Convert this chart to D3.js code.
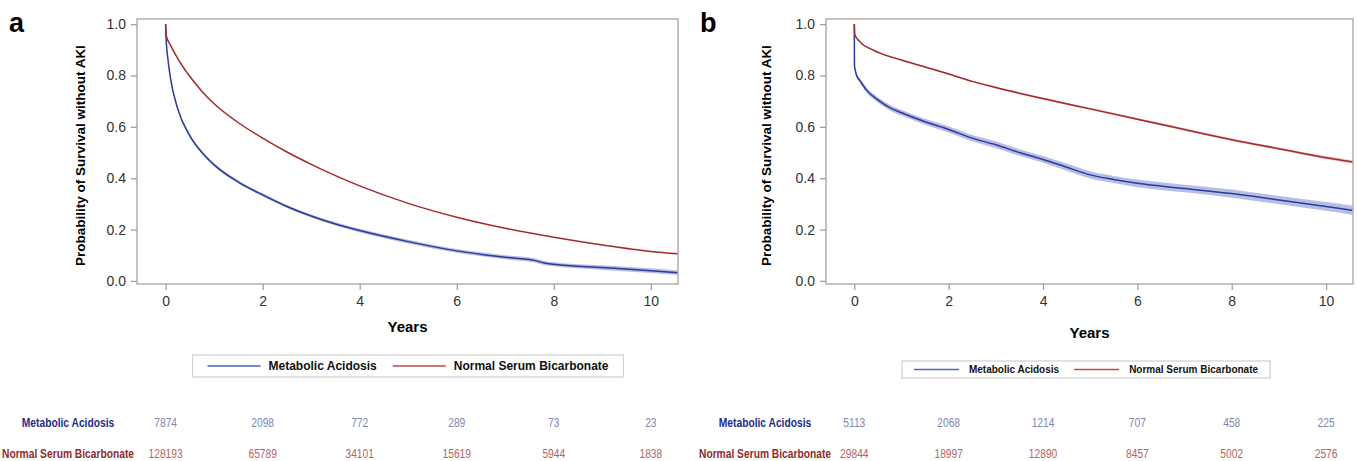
<!DOCTYPE html>
<html>
<head>
<meta charset="utf-8">
<script src="https://cdn.jsdelivr.net/npm/d3@7"></script>
<style>
  body { margin: 0; background: #fff; }
  svg { display: block; font-family: "Liberation Sans", Arial, sans-serif; }
</style>
</head>
<body>
<svg id="chart" width="1357" height="461"></svg>
<script>
const seriesNames = ["Metabolic Acidosis", "Normal Serum Bicarbonate"];
const xTicks = [0, 2, 4, 6, 8, 10];
const yTicks = [0, 0.2, 0.4, 0.6, 0.8, 1.0];

// panel a
const aAcidosisT   = [0, 0.01, 0.05, 0.1, 0.25, 0.5, 0.75, 1, 1.5, 2, 2.5, 3, 3.5, 4, 5, 6, 7, 7.6, 7.8, 8, 9, 10, 10.56];
const aAcidosisS   = [1, 0.945, 0.86, 0.79, 0.67, 0.565, 0.5, 0.452, 0.385, 0.335, 0.29, 0.253, 0.222, 0.196, 0.153, 0.117, 0.092, 0.08, 0.07, 0.065, 0.052, 0.04, 0.032];
const aAcidosisCI  = [0, 0.004, 0.005, 0.005, 0.006, 0.006, 0.006, 0.006, 0.006, 0.006, 0.006, 0.006, 0.006, 0.007, 0.007, 0.007, 0.008, 0.008, 0.008, 0.008, 0.009, 0.009, 0.009];
const aNormalT     = [0, 0.01, 0.1, 0.25, 0.5, 0.75, 1, 1.5, 2, 2.5, 3, 3.5, 4, 5, 6, 7, 8, 9, 10, 10.56];
const aNormalS     = [1, 0.957, 0.918, 0.866, 0.796, 0.738, 0.69, 0.616, 0.556, 0.502, 0.454, 0.41, 0.37, 0.302, 0.248, 0.205, 0.17, 0.14, 0.115, 0.106];
const aAtRiskAcidosis = [7874, 2098, 772, 289, 73, 23];
const aAtRiskNormal   = [128193, 65789, 34101, 15619, 5944, 1838];

// panel b
const bAcidosisT   = [0, 0.003, 0.05, 0.12, 0.25, 0.5, 0.75, 1, 1.5, 2, 2.5, 3, 3.5, 4, 4.5, 5, 5.5, 6, 7, 8, 9, 10, 10.57];
const bAcidosisS   = [1, 0.84, 0.80, 0.78, 0.745, 0.705, 0.675, 0.655, 0.62, 0.59, 0.556, 0.53, 0.50, 0.473, 0.443, 0.413, 0.395, 0.38, 0.36, 0.34, 0.315, 0.29, 0.275];
const bAcidosisCI  = [0, 0.008, 0.009, 0.009, 0.01, 0.01, 0.011, 0.011, 0.012, 0.012, 0.012, 0.013, 0.013, 0.013, 0.014, 0.014, 0.014, 0.015, 0.015, 0.016, 0.016, 0.017, 0.018];
const bNormalT     = [0, 0.01, 0.12, 0.4, 1, 1.5, 2, 2.5, 3, 4, 5, 6, 7, 8, 9, 10, 10.57];
const bNormalS     = [1, 0.96, 0.931, 0.899, 0.86, 0.833, 0.806, 0.777, 0.753, 0.71, 0.67, 0.63, 0.59, 0.55, 0.515, 0.48, 0.463];
const bNormalCI    = [0, 0.002, 0.002, 0.003, 0.003, 0.003, 0.003, 0.003, 0.004, 0.004, 0.004, 0.004, 0.005, 0.005, 0.005, 0.006, 0.006];
const bAtRiskAcidosis = [5113, 2068, 1214, 707, 458, 225];
const bAtRiskNormal   = [29844, 18997, 12890, 8457, 5002, 2576];

const blue = "#2c3a98", blueBand = "#aab3e2", red = "#a3292b", redBand = "#eaa6a6";
const narrowFactor = 0.82; // no narrow face installed, squeeze regular one

const svg = d3.select("#chart");

function toPts(T, S, C) {
  return T.map((t, i) => ({t: t, s: S[i], c: C ? C[i] : 0}));
}

function narrowText(parent, x, y) {
  return parent.append("g").attr("transform", `translate(${x},${y}) scale(${narrowFactor},1)`)
    .append("text").attr("x", 0).attr("y", 0).attr("text-anchor", "middle");
}

function drawPanel(p) {
  const x = d3.scaleLinear().domain(p.xDomain).range([p.left, p.right]);
  const y = d3.scaleLinear().domain([-0.012, 1.02]).range([p.bottom, p.top]);
  const g = svg.append("g");

  g.append("text").attr("x", p.letterX).attr("y", 32)
    .attr("font-size", 27).attr("font-weight", "bold").text(p.letter);

  const clipId = "clip" + p.letter;
  g.append("clipPath").attr("id", clipId).append("rect")
    .attr("x", p.left).attr("y", p.top).attr("width", p.right - p.left).attr("height", p.bottom - p.top);

  const plot = g.append("g").attr("clip-path", `url(#${clipId})`);
  const line = d3.line().x(d => x(d.t)).y(d => y(d.s)).curve(d3.curveMonotoneX);
  const band = d3.area().x(d => x(d.t)).y0(d => y(d.s - d.c)).y1(d => y(d.s + d.c)).curve(d3.curveMonotoneX);

  p.series.forEach(s => {
    if (s.ci) {
      plot.append("path").datum(s.pts).attr("d", band)
        .attr("fill", s.band).attr("opacity", s.bandOpacity).attr("stroke", "none");
    }
  });
  p.series.forEach(s => {
    plot.append("path").datum(s.pts).attr("d", line)
      .attr("fill", "none").attr("stroke", s.color).attr("stroke-width", 1.5);
  });

  // frame
  g.append("rect").attr("x", p.left).attr("y", p.top)
    .attr("width", p.right - p.left).attr("height", p.bottom - p.top)
    .attr("fill", "none").attr("stroke", "#b0b0b0").attr("stroke-width", 1.5);

  const xAxis = g.append("g").attr("transform", `translate(0,${p.bottom})`)
    .call(d3.axisBottom(x).tickValues(xTicks).tickSize(6).tickPadding(6).tickFormat(d3.format("d")));
  const yAxis = g.append("g").attr("transform", `translate(${p.left},0)`)
    .call(d3.axisLeft(y).tickValues(yTicks).tickSize(6).tickPadding(5).tickFormat(d3.format(".1f")));
  [xAxis, yAxis].forEach(a => {
    a.select(".domain").remove();
    a.selectAll(".tick line").attr("stroke", "#a0a0a0").attr("stroke-width", 1.3);
    a.selectAll(".tick text").attr("fill", "#333").attr("font-size", 14)
      .attr("font-family", "'Liberation Sans', Arial, sans-serif");
  });

  g.append("text").attr("x", (p.left + p.right) / 2).attr("y", p.xLabelY)
    .attr("text-anchor", "middle").attr("font-size", 15).attr("font-weight", "bold").text("Years");
  g.append("text").attr("transform", `translate(${p.yLabelX},${(p.top + p.bottom) / 2 + 4}) rotate(-90)`)
    .attr("text-anchor", "middle").attr("font-size", 13.5).attr("font-weight", "bold")
    .text("Probability of Survival without AKI");

  // legend
  const lg = g.append("g");
  const box = lg.append("rect").attr("fill", "#fff").attr("stroke", "#d0d0d0").attr("stroke-width", 1.2);
  const items = [];
  p.series.forEach((s, i) => {
    const it = lg.append("g");
    it.append("line").attr("x1", 0).attr("x2", p.legLine).attr("y1", 0).attr("y2", 0)
      .attr("stroke", s.legColor).attr("stroke-width", 1.5);
    const tx = it.append("text").attr("x", p.legLine + p.legGap).attr("y", p.legFont * 0.36)
      .attr("font-size", p.legFont).attr("font-weight", "bold").attr("fill", "#111").text(seriesNames[i]);
    const w = p.legLine + p.legGap + tx.node().getComputedTextLength();
    items.push({it, w});
  });
  const total = items[0].w + p.legSpace + items[1].w + 2 * p.legPad;
  const startX = p.legCenter - total / 2;
  box.attr("x", startX).attr("y", p.legY - p.legH / 2).attr("width", total).attr("height", p.legH);
  let cx = startX + p.legPad;
  items.forEach(o => { o.it.attr("transform", `translate(${cx},${p.legY})`); cx += o.w + p.legSpace; });

  // number at risk
  const rows = [
    {label: seriesNames[0], values: p.riskA, labColor: "#1f2d8a", numColor: "#7f86b3", y: 427},
    {label: seriesNames[1], values: p.riskN, labColor: "#8e2d2b", numColor: "#b46661", y: 458}
  ];
  rows.forEach(r => {
    narrowText(g, p.riskLabelX, r.y).attr("font-size", 12.5).attr("font-weight", "bold")
      .attr("fill", r.labColor).text(r.label);
    r.values.forEach((v, i) => {
      narrowText(g, x(xTicks[i]), r.y).attr("font-size", 12.5).attr("fill", r.numColor).text(v);
    });
  });
}

drawPanel({
  letter: "a", letterX: 9,
  left: 137, right: 678, top: 19, bottom: 284, xDomain: [-0.59, 10.56],
  xLabelY: 332, yLabelX: 85,
  legCenter: 408, legY: 366, legH: 22, legFont: 12, legLine: 53, legGap: 8, legSpace: 16, legPad: 15,
  riskLabelX: 68, riskA: aAtRiskAcidosis, riskN: aAtRiskNormal,
  series: [
    {pts: toPts(aAcidosisT, aAcidosisS, aAcidosisCI), color: blue, ci: true, band: blueBand, bandOpacity: 0.85, legColor: "#5564b4"},
    {pts: toPts(aNormalT, aNormalS), color: red, ci: false, legColor: "#c04a48"}
  ]
});

drawPanel({
  letter: "b", letterX: 700,
  left: 826, right: 1353, top: 19, bottom: 284, xDomain: [-0.6, 10.57],
  xLabelY: 338, yLabelX: 771,
  legCenter: 1086, legY: 369.5, legH: 17, legFont: 10, legLine: 45, legGap: 10, legSpace: 15, legPad: 12,
  riskLabelX: 765, riskA: bAtRiskAcidosis, riskN: bAtRiskNormal,
  series: [
    {pts: toPts(bAcidosisT, bAcidosisS, bAcidosisCI), color: blue, ci: true, band: blueBand, bandOpacity: 0.85, legColor: "#5564b4"},
    {pts: toPts(bNormalT, bNormalS, bNormalCI), color: red, ci: true, band: redBand, bandOpacity: 0.7, legColor: "#c04a48"}
  ]
});
</script>
</body>
</html>
